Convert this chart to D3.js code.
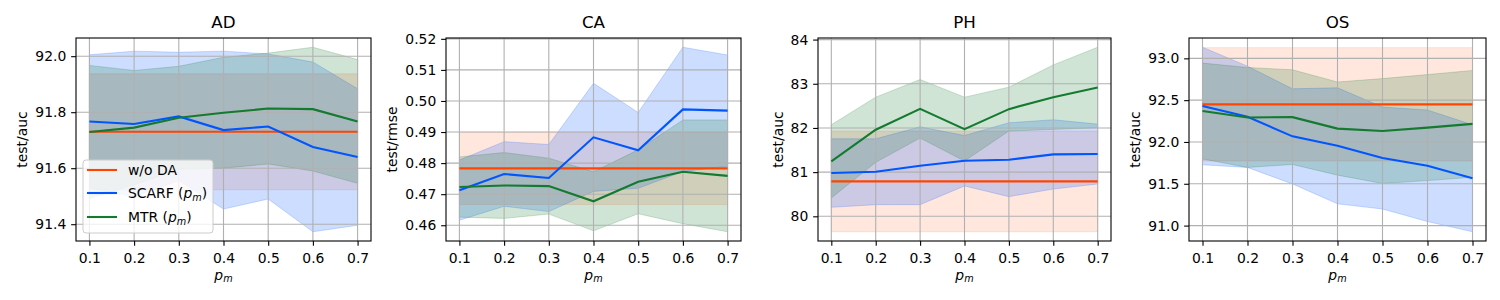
<!DOCTYPE html>
<html>
<head>
<meta charset="utf-8">
<script src="https://cdn.jsdelivr.net/npm/d3@7"></script>
<style>
    body { margin: 0; background: #ffffff; }
    svg text { font-family: "DejaVu Sans", sans-serif; fill: #000000; }
</style>
</head>
<body>
<div id="chart"></div>
<script>
var pm = [0.1, 0.2, 0.3, 0.4, 0.5, 0.6, 0.7];
var datasets = ['AD', 'CA', 'PH', 'OS'];
var metrics = ['test/auc', 'test/rmse', 'test/auc', 'test/auc'];

// w/o DA baseline (one value per dataset)
var base_mean = [91.73, 0.4783, 80.79, 92.45];
var base_std = [0.207, 0.0116, 1.14, 0.678];

var scarf_mean = [
    [91.767, 91.758, 91.785, 91.736, 91.749, 91.676, 91.640],
    [0.4713, 0.4765, 0.4752, 0.4883, 0.4841, 0.4973, 0.4969],
    [80.979, 81.009, 81.145, 81.258, 81.281, 81.401, 81.409],
    [92.430, 92.301, 92.067, 91.954, 91.808, 91.715, 91.566]
];
var scarf_std = [
    [0.238, 0.260, 0.229, 0.282, 0.259, 0.303, 0.244],
    [0.0097, 0.0104, 0.0108, 0.0174, 0.0122, 0.0200, 0.0179],
    [0.776, 0.746, 0.881, 0.572, 0.836, 0.784, 0.678],
    [0.703, 0.606, 0.569, 0.694, 0.610, 0.667, 0.640]
];
var mtr_mean = [
    [91.729, 91.745, 91.780, 91.798, 91.813, 91.811, 91.767],
    [0.4723, 0.4728, 0.4726, 0.4677, 0.4740, 0.4772, 0.4759],
    [81.243, 81.959, 82.433, 81.974, 82.426, 82.697, 82.915],
    [92.370, 92.293, 92.297, 92.160, 92.131, 92.172, 92.216]
];
var mtr_std = [
    [0.238, 0.204, 0.184, 0.198, 0.198, 0.221, 0.221],
    [0.0097, 0.0106, 0.0090, 0.0095, 0.0103, 0.0167, 0.0180],
    [0.829, 0.738, 0.663, 0.723, 0.497, 0.730, 0.912],
    [0.573, 0.598, 0.566, 0.557, 0.627, 0.634, 0.639]
];

var y_ticks = [
    [91.4, 91.6, 91.8, 92.0],
    [0.46, 0.47, 0.48, 0.49, 0.50, 0.51, 0.52],
    [80, 81, 82, 83, 84],
    [91.0, 91.5, 92.0, 92.5, 93.0]
];
var y_formats = ['.1f', '.2f', 'd', '.1f'];
var legend_labels = ['w/o DA', 'SCARF', 'MTR'];

var fig_width = 1500,
    fig_height = 300,
    panel_left = [76, 446, 818, 1189],
    panel_width = [295, 295, 293, 297],
    panel_top = 38,
    panel_bottom = 241,
    color_base = '#ff4500',
    color_scarf = '#0055ff',
    color_mtr = '#137a2f',
    font_size = '13.9px',
    tick_len = 4.86;

var svg = d3.select('#chart').append('svg')
    .attr('width', fig_width)
    .attr('height', fig_height);

function drawPanel(i) {
    var w = panel_width[i],
        h = panel_bottom - panel_top,
        g = svg.append('g').attr('transform', 'translate(' + panel_left[i] + ',' + panel_top + ')');

    var series = [
        {mean: pm.map(function () { return base_mean[i]; }),
         std: pm.map(function () { return base_std[i]; }),
         color: color_base, fill: 0.13},
        {mean: scarf_mean[i], std: scarf_std[i], color: color_scarf, fill: 0.2},
        {mean: mtr_mean[i], std: mtr_std[i], color: color_mtr, fill: 0.2}
    ];

    // Autoscale like matplotlib: data extent plus 5% each side.
    var lo = d3.min(series, function (s) { return d3.min(s.mean, function (m, k) { return m - s.std[k]; }); }),
        hi = d3.max(series, function (s) { return d3.max(s.mean, function (m, k) { return m + s.std[k]; }); }),
        pad = (hi - lo) * 0.05;

    var x = d3.scaleLinear().domain([0.07, 0.73]).range([0, w]),
        y = d3.scaleLinear().domain([lo - pad, hi + pad]).range([h, 0]);

    // Shaded bands first.
    var area = d3.area()
        .x(function (d) { return x(d.x); })
        .y0(function (d) { return y(d.m - d.s); })
        .y1(function (d) { return y(d.m + d.s); });

    series.forEach(function (s) {
        var pts = pm.map(function (p, k) { return {x: p, m: s.mean[k], s: s.std[k]}; });
        g.append('path')
            .datum(pts)
            .attr('d', area)
            .attr('fill', s.color)
            .attr('fill-opacity', s.fill)
            .attr('stroke', s.color)
            .attr('stroke-opacity', s.fill)
            .attr('stroke-width', 1);
    });

    // Grid above the bands, below the lines.
    g.append('g').selectAll('line').data(pm).enter().append('line')
        .attr('x1', function (d) { return x(d); })
        .attr('x2', function (d) { return x(d); })
        .attr('y1', 0).attr('y2', h)
        .attr('stroke', '#b0b0b0').attr('stroke-width', 1.1);
    g.append('g').selectAll('line').data(y_ticks[i]).enter().append('line')
        .attr('x1', 0).attr('x2', w)
        .attr('y1', function (d) { return y(d); })
        .attr('y2', function (d) { return y(d); })
        .attr('stroke', '#b0b0b0').attr('stroke-width', 1.1);

    var line = d3.line()
        .x(function (d, k) { return x(pm[k]); })
        .y(function (d) { return y(d); });

    series.forEach(function (s) {
        g.append('path')
            .datum(s.mean)
            .attr('d', line)
            .attr('fill', 'none')
            .attr('stroke', s.color)
            .attr('stroke-width', 2.1);
    });

    // Axes.
    var xa = g.append('g').attr('transform', 'translate(0,' + h + ')')
        .call(d3.axisBottom(x).tickValues(pm).tickFormat(d3.format('.1f'))
            .tickSize(tick_len).tickPadding(7).tickSizeOuter(0));
    var ya = g.append('g')
        .call(d3.axisLeft(y).tickValues(y_ticks[i]).tickFormat(d3.format(y_formats[i]))
            .tickSize(tick_len).tickPadding(4.86).tickSizeOuter(0));
    [xa, ya].forEach(function (a) {
        a.select('.domain').remove();
        a.selectAll('line').attr('stroke', '#000').attr('stroke-width', 1.1);
        a.selectAll('text').attr('font-size', font_size).attr('font-family', '"DejaVu Sans", sans-serif');
    });

    g.append('rect')
        .attr('width', w).attr('height', h)
        .attr('fill', 'none').attr('stroke', '#000').attr('stroke-width', 1.1);

    // Title and labels.
    g.append('text')
        .attr('x', w / 2).attr('y', -10)
        .attr('text-anchor', 'middle')
        .attr('font-size', '16.7px')
        .text(datasets[i]);

    var xl = g.append('text')
        .attr('x', w / 2).attr('y', h + 38.5)
        .attr('text-anchor', 'middle')
        .attr('font-size', font_size);
    xl.append('tspan').attr('font-style', 'italic').text('p');
    xl.append('tspan').attr('font-style', 'italic').attr('font-size', '9.7px').attr('dy', 2.5).text('m');

    // Y label sits just left of the widest tick label.
    var min_x = d3.min(ya.selectAll('text').nodes(), function (n) {
        return n.getBBox().x;
    });
    g.append('text')
        .attr('transform', 'translate(' + (min_x - 8) + ',' + (h / 2) + ') rotate(-90)')
        .attr('text-anchor', 'middle')
        .attr('font-size', font_size)
        .text(metrics[i]);
}

function drawLegend() {
    var lg = svg.append('g').attr('transform', 'translate(83,160)'),
        colors = [color_base, color_scarf, color_mtr],
        rows = [10, 33, 57];

    lg.append('rect')
        .attr('width', 130).attr('height', 73)
        .attr('rx', 3)
        .attr('fill', '#ffffff').attr('fill-opacity', 0.8)
        .attr('stroke', '#cccccc').attr('stroke-width', 1);

    legend_labels.forEach(function (label, k) {
        lg.append('line')
            .attr('x1', 4).attr('x2', 34)
            .attr('y1', rows[k]).attr('y2', rows[k])
            .attr('stroke', colors[k]).attr('stroke-width', 2.1);
        var t = lg.append('text')
            .attr('x', 45).attr('y', rows[k] + 5)
            .attr('font-size', font_size)
            .text(label);
        if (k > 0) {
            t.append('tspan').text(' (');
            t.append('tspan').attr('font-style', 'italic').text('p');
            t.append('tspan').attr('font-style', 'italic').attr('font-size', '9.7px').attr('dy', 2.5).text('m');
            t.append('tspan').attr('dy', -2.5).text(')');
        }
    });
}

(function () {
    var i;
    for (i = 0; i < datasets.length; i = i + 1) {
        drawPanel(i);
    }
    drawLegend();
}());
</script>
</body>
</html>
